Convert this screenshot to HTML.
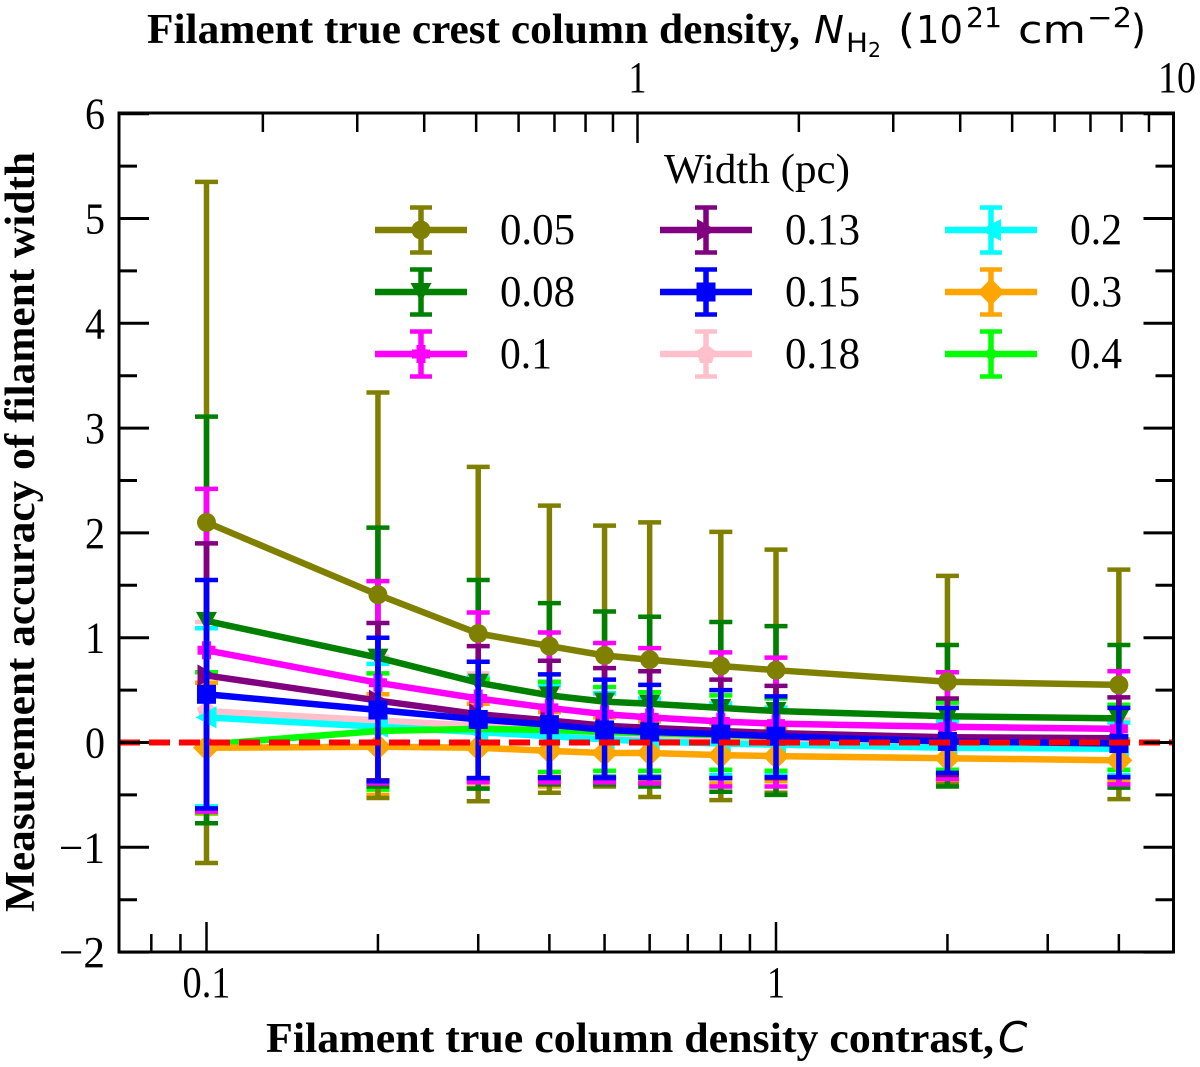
<!DOCTYPE html>
<html lang="en">
<head>
<meta charset="utf-8">
<title>Measurement accuracy of filament width</title>
<style>
html,body{margin:0;padding:0;background:#fff;}
svg{display:block;}
text{font-family:"Liberation Serif",serif;fill:#000;}
</style>
</head>
<body>
<svg id="chart" xmlns="http://www.w3.org/2000/svg" width="1200" height="1067" viewBox="0 0 1200 1067"></svg>
<script>
const contrastValues = [0.1,0.2,0.3,0.4,0.5,0.6,0.8,1,2,4];
const yMajorTicks = [-2,-1,0,1,2,3,4,5,6];
const yMinorTicks = [-1.5,-0.5,0.5,1.5,2.5,3.5,4.5,5.5];
const bottomMajorTicks = [0.1,1];
const bottomMinorTicks = [0.08,0.09,0.2,0.3,0.4,0.5,0.6,0.7,0.8,0.9,2,3,4];
const topMajorTicks = [1];
const topMinorTicks = [0.2,0.3,0.4,0.5,0.6,0.7,0.8,0.9,2,3,4,5,6,7,8,9];

const mean005 = [2.1,1.41,1.04,0.92,0.83,0.79,0.73,0.69,0.58,0.55];
const upper005 = [5.35,3.34,2.63,2.26,2.07,2.10,2.01,1.84,1.59,1.65];
const lower005 = [-1.15,-0.53,-0.56,-0.48,-0.42,-0.52,-0.55,-0.48,-0.40,-0.54];
const mean008 = [1.16,0.81,0.57,0.45,0.39,0.37,0.33,0.30,0.25,0.23];
const upper008 = [3.11,2.05,1.55,1.33,1.25,1.20,1.15,1.11,0.93,0.93];
const lower008 = [-0.77,-0.42,-0.44,-0.40,-0.40,-0.42,-0.47,-0.50,-0.42,-0.43];
const mean010 = [0.88,0.57,0.42,0.33,0.27,0.24,0.20,0.18,0.15,0.13];
const upper010 = [2.42,1.54,1.24,1.05,0.95,0.90,0.86,0.81,0.67,0.68];
const lower010 = [-0.66,-0.39,-0.38,-0.38,-0.38,-0.39,-0.42,-0.42,-0.35,-0.40];
const mean013 = [0.64,0.40,0.27,0.21,0.16,0.14,0.11,0.09,0.05,0.04];
const upper013 = [1.90,1.14,0.92,0.78,0.71,0.68,0.60,0.54,0.42,0.43];
const lower013 = [-0.63,-0.36,-0.34,-0.33,-0.33,-0.33,-0.34,-0.34,-0.31,-0.33];
const mean015 = [0.46,0.31,0.22,0.17,0.12,0.10,0.08,0.06,0.01,-0.01];
const upper015 = [1.55,1.00,0.77,0.65,0.60,0.55,0.50,0.44,0.33,0.33];
const lower015 = [-0.63,-0.37,-0.34,-0.34,-0.34,-0.34,-0.34,-0.33,-0.29,-0.33];
const mean018 = [0.30,0.21,0.16,0.12,0.09,0.07,0.05,0.04,0.01,0.00];
const upper018 = [1.15,0.82,0.66,0.52,0.46,0.42,0.38,0.34,0.24,0.22];
const lower018 = [-0.64,-0.39,-0.36,-0.34,-0.34,-0.33,-0.33,-0.33,-0.30,-0.32];
const mean020 = [0.24,0.15,0.10,0.06,0.03,0.01,-0.01,-0.02,-0.05,-0.06];
const upper020 = [1.09,0.75,0.62,0.55,0.47,0.42,0.37,0.33,0.20,0.19];
const lower020 = [-0.61,-0.42,-0.35,-0.33,-0.32,-0.32,-0.31,-0.31,-0.30,-0.31];
const mean030 = [-0.05,-0.04,-0.05,-0.08,-0.10,-0.10,-0.12,-0.13,-0.15,-0.17];
const upper030 = [0.57,0.46,0.37,0.29,0.24,0.20,0.18,0.14,0.06,0.03];
const lower030 = [-0.68,-0.50,-0.43,-0.42,-0.41,-0.38,-0.39,-0.37,-0.37,-0.37];
const mean040 = [-0.02,0.11,0.13,0.12,0.10,0.09,0.07,0.06,0.04,0.02];
const upper040 = [0.67,0.66,0.60,0.58,0.53,0.48,0.45,0.42,0.38,0.36];
const lower040 = [-0.67,-0.45,-0.37,-0.28,-0.27,-0.27,-0.26,-0.27,-0.26,-0.26];

const NS = 'http://www.w3.org/2000/svg';
const svg = document.getElementById('chart');
const box = {l:119, r:1173.5, t:113, b:952};

function xBottom(v){ return 776 + 569.5*Math.log10(v); }
function xTop(v){ return 637.5 + 536*Math.log10(v); }
function yScale(v){ return 742.5 - 104.8*v; }

function el(tag, parent, attrs){
  const n = document.createElementNS(NS, tag);
  for(const k in attrs){ n.setAttribute(k, attrs[k]); }
  parent.appendChild(n);
  return n;
}
function group(parent){ return el('g', parent, {}); }

function drawMarker(parent, kind, cx, cy, color){
  const poly = pts => el('polygon', parent, {points: pts.map(p => (cx+p[0])+','+(cy+p[1])).join(' '), fill: color});
  if(kind==='circle') return el('circle', parent, {cx:cx, cy:cy, r:9.5, fill:color});
  if(kind==='small') return el('circle', parent, {cx:cx, cy:cy, r:5.5, fill:color});
  if(kind==='square') return el('rect', parent, {x:cx-9.5, y:cy-9.5, width:19, height:19, fill:color});
  if(kind==='down') return poly([[-10.5,-9],[10.5,-9],[0,10]]);
  if(kind==='right') return poly([[-9,-11],[10,0],[-9,11]]);
  if(kind==='left') return poly([[10,-11],[-11,0],[10,11]]);
  if(kind==='diamond') return poly([[-13.5,0],[0,-13.5],[13.5,0],[0,13.5]]);
  if(kind==='plus') return poly([[-4.5,-9],[4.5,-9],[4.5,-4.5],[9,-4.5],[9,4.5],[4.5,4.5],[4.5,9],[-4.5,9],[-4.5,4.5],[-9,4.5],[-9,-4.5],[-4.5,-4.5]]);
  return poly([[0,-10],[9.5,-3],[6,9],[-6,9],[-9.5,-3]]);
}

function drawErrorBars(parent, s){
  contrastValues.forEach(function(c,i){
    const x = xBottom(c);
    const yu = yScale(s.upper[i]);
    const yl = yScale(s.lower[i]);
    const bar = el('line', parent, {x1:x, x2:x, y1:yu, y2:yl, stroke:s.color, 'stroke-width':5.5});
    
    
    const capTop = el('line', parent, {x1:x-11.5, x2:x+11.5, y1:yu, y2:yu, stroke:s.color, 'stroke-width':4.5});
    
    
    const capBottom = el('line', parent, {x1:x-11.5, x2:x+11.5, y1:yl, y2:yl, stroke:s.color, 'stroke-width':4.5});
    
    
  });
}
function drawLine(parent, s){
  const d = contrastValues.map((c,i) => xBottom(c)+','+yScale(s.mean[i])).join(' ');
  const line = el('polyline', parent, {points:d, fill:'none', stroke:s.color, 'stroke-width':6.5, 'stroke-linejoin':'round'});
  
  
  contrastValues.forEach(function(c,i){
    const m = drawMarker(parent, s.marker, xBottom(c), yScale(s.mean[i]), s.color);
    
    
  });
}

const seriesList = [
  {key:'0.05', color:'#808000', marker:'circle', mean:mean005, upper:upper005, lower:lower005, lx:421, ly:230},
  {key:'0.08', color:'#008000', marker:'down', mean:mean008, upper:upper008, lower:lower008, lx:421, ly:292},
  {key:'0.1', color:'#ff00ff', marker:'plus', mean:mean010, upper:upper010, lower:lower010, lx:421, ly:354},
  {key:'0.13', color:'#800080', marker:'right', mean:mean013, upper:upper013, lower:lower013, lx:706, ly:230},
  {key:'0.15', color:'#0000ff', marker:'square', mean:mean015, upper:upper015, lower:lower015, lx:706, ly:292},
  {key:'0.18', color:'#ffc0cb', marker:'pentagon', mean:mean018, upper:upper018, lower:lower018, lx:706, ly:354},
  {key:'0.2', color:'#00ffff', marker:'left', mean:mean020, upper:upper020, lower:lower020, lx:991, ly:230},
  {key:'0.3', color:'#ffa500', marker:'diamond', mean:mean030, upper:upper030, lower:lower030, lx:991, ly:292},
  {key:'0.4', color:'#00ff00', marker:'small', mean:mean040, upper:upper040, lower:lower040, lx:991, ly:354}
];
const byKey = {};
seriesList.forEach(function(s){ byKey[s.key] = s; });

/* plotted marks, layered as in the figure */
const plotLayer = group(svg);


['0.18','0.2','0.3','0.4','0.05','0.08','0.1','0.13'].forEach(function(k){ drawErrorBars(plotLayer, byKey[k]); });
['0.18','0.2','0.4','0.3','0.13','0.1','0.08','0.05'].forEach(function(k){ drawLine(plotLayer, byKey[k]); });
drawErrorBars(plotLayer, byKey['0.15']);
drawLine(plotLayer, byKey['0.15']);

/* zero reference */
const zeroLine = el('line', svg, {x1:box.l, x2:box.r, y1:yScale(0), y2:yScale(0), stroke:'#ff0000', 'stroke-width':6, 'stroke-dasharray':'21 9'});



/* axes */
const axisLayer = group(svg);


function tick(x1,y1,x2,y2,w,name){
  const t = el('line', axisLayer, {x1:x1, y1:y1, x2:x2, y2:y2, stroke:'#000', 'stroke-width':w});
  
  
}
yMajorTicks.forEach(function(v){
  tick(box.l, yScale(v), box.l+30, yScale(v), 3, 'y-major-tick-left');
  tick(box.r, yScale(v), box.r-30, yScale(v), 3, 'y-major-tick-right');
});
yMinorTicks.forEach(function(v){
  tick(box.l, yScale(v), box.l+18, yScale(v), 3, 'y-minor-tick-left');
  tick(box.r, yScale(v), box.r-18, yScale(v), 3, 'y-minor-tick-right');
});
bottomMajorTicks.forEach(function(v){ tick(xBottom(v), box.b, xBottom(v), box.b-30, 2.5, 'bottom-major-tick'); });
bottomMinorTicks.forEach(function(v){ tick(xBottom(v), box.b, xBottom(v), box.b-18, 2.5, 'bottom-minor-tick'); });
topMajorTicks.forEach(function(v){ tick(xTop(v), box.t, xTop(v), box.t+30, 2.5, 'top-major-tick'); });
topMinorTicks.forEach(function(v){ tick(xTop(v), box.t, xTop(v), box.t+19, 2.5, 'top-minor-tick'); });
const frame = el('rect', axisLayer, {x:box.l, y:box.t, width:box.r-box.l, height:box.b-box.t, fill:'none', stroke:'#000', 'stroke-width':3});



function label(parent, txt, x, y, anchor, len, size, weight){
  const t = el('text', parent, {x:x, y:y, 'text-anchor':anchor, 'font-size':size, 'font-weight':weight||'normal', textLength:len, lengthAdjust:'spacingAndGlyphs'});
  t.textContent = txt;
  return t;
}
const yTickLabels = ['\u22122','\u22121','0','1','2','3','4','5','6'];
yMajorTicks.forEach(function(v,i){
  const t = label(axisLayer, yTickLabels[i], 105, yScale(v)+15, 'end', v<0 ? 46 : 20, 44);
  
  
});
const bottomTickLabels = ['0.1','1'];
bottomMajorTicks.forEach(function(v,i){
  const t = label(axisLayer, bottomTickLabels[i], xBottom(v), 997, 'middle', i===0 ? 48 : 18, 44);
  
  
});
const topTickLabels = ['1','10'];
const topTickValues = [1,10];
topTickValues.forEach(function(v,i){
  const t = label(axisLayer, topTickLabels[i], v===10 ? 1177 : xTop(v), 92, 'middle', i===0 ? 18 : 38, 44);
  
  
});

/* legend */
const legend = group(svg);


const legendTitle = label(legend, 'Width (pc)', 757, 183, 'middle', 186, 42);


seriesList.forEach(function(s){
  const g = group(legend);
  
  
  el('line', g, {x1:s.lx, x2:s.lx, y1:s.ly-23, y2:s.ly+23, stroke:s.color, 'stroke-width':5.5});
  el('line', g, {x1:s.lx-11, x2:s.lx+11, y1:s.ly-22.5, y2:s.ly-22.5, stroke:s.color, 'stroke-width':4.5});
  el('line', g, {x1:s.lx-11, x2:s.lx+11, y1:s.ly+22.5, y2:s.ly+22.5, stroke:s.color, 'stroke-width':4.5});
  el('line', g, {x1:s.lx-46, x2:s.lx+46, y1:s.ly, y2:s.ly, stroke:s.color, 'stroke-width':6.5});
  drawMarker(g, s.marker, s.lx, s.ly, s.color);
  const t = label(g, s.key, s.lx+79, s.ly+14, 'start', s.key.length===4 ? 75 : 52, 44);
  
  
});

/* titles */
const topTitle = label(svg, 'Filament true crest column density,', 147, 43, 'start', 653, 42, 'bold');



const topUnits = group(svg);


function unitPart(txt, x, y, size, len, italic){
  const t = el('text', topUnits, {x:x, y:y, 'font-size':size, textLength:len, lengthAdjust:'spacingAndGlyphs', style:'font-family:"DejaVu Sans",sans-serif' + (italic ? ';font-style:italic' : '')});
  t.textContent = txt;
  return t;
}
unitPart('N', 814, 43, 38, 30, true);
unitPart('H', 846, 52, 27, 22, false);
unitPart('2', 868, 57, 20, 13, false);
unitPart('(', 898, 43, 40, 17, false);
unitPart('10', 916, 43, 38, 47, false);
unitPart('21', 966, 27, 28, 36, false);
unitPart('cm', 1018, 43, 38, 68, false);
unitPart('\u22122', 1087, 27, 28, 45, false);
unitPart(')', 1131, 43, 40, 15, false);

const bottomTitle = label(svg, 'Filament true column density contrast,', 266, 1052, 'start', 728, 42, 'bold');


const bottomVar = el('text', svg, {x:998, y:1052, 'font-size':42, 'font-style':'italic', style:'font-family:"DejaVu Sans",sans-serif'});
bottomVar.textContent = 'C';


const yTitle = label(svg, 'Measurement accuracy of filament width', 0, 0, 'middle', 760, 42, 'bold');
yTitle.setAttribute('transform', 'translate(34 532) rotate(-90)');


</script>
</body>
</html>
